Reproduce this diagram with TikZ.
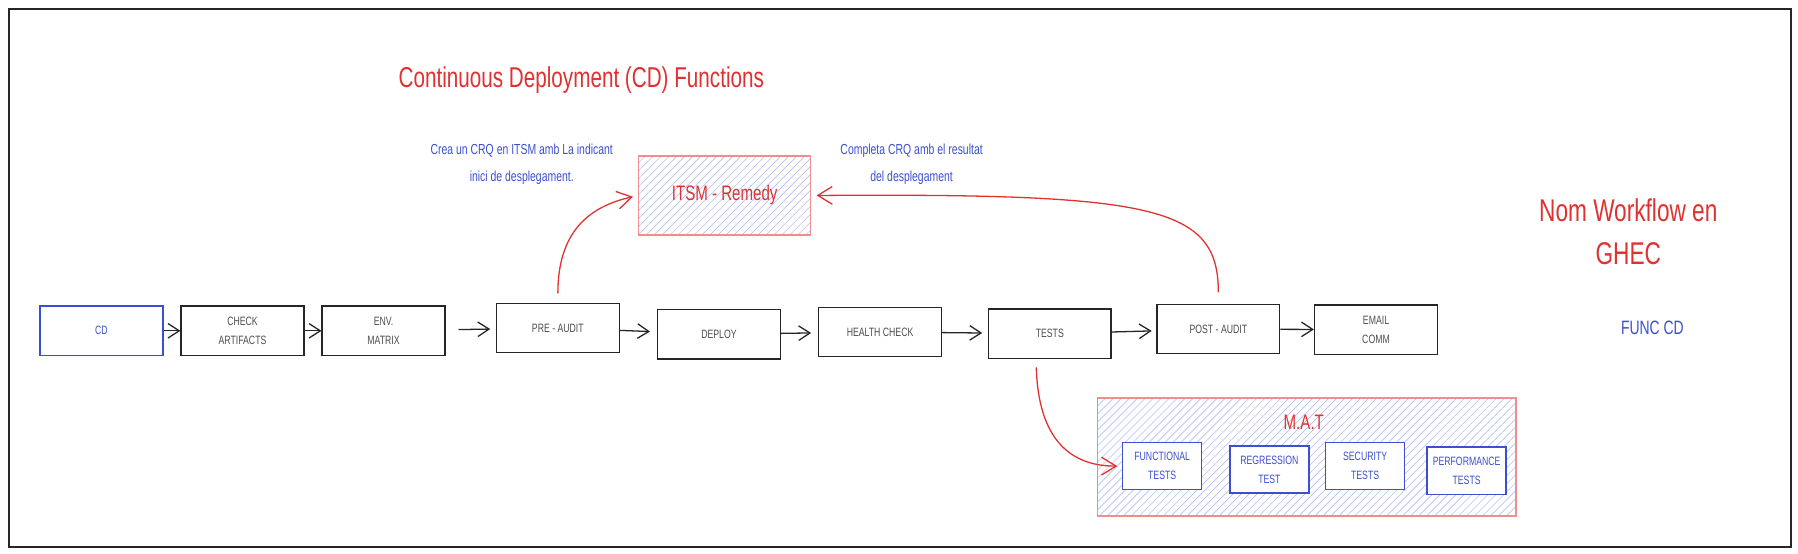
\documentclass[tikz,border=0pt]{standalone}
\usepackage{fontspec}
\setmainfont{Liberation Sans}[FakeStretch=0.72]
\usetikzlibrary{arrows.meta,patterns.meta}
\definecolor{sketchred}{HTML}{E03131}
\definecolor{sketchblue}{HTML}{3B4FD0}
\definecolor{hatchblue}{HTML}{B4BEF5}

\begin{document}
\begin{tikzpicture}[x=0.025cm, y=0.025cm,
        box/.style = {draw=black!85, line width=0.9pt, minimum width=2.675cm, minimum height=1.075cm,
                      inner sep=0pt, align=center, text=black!70, font=\fontsize{7.5}{12}\selectfont},
        bluebox/.style = {box, draw=sketchblue, text=sketchblue},
        testbox/.style = {bluebox, fill=white, minimum width=1.725cm, minimum height=1.025cm},
        hatched/.style = {draw=sketchred!55, line width=0.8pt, inner sep=0pt,
                          pattern={Lines[angle=45,distance=3.5pt,line width=0.4pt]}, pattern color=hatchblue},
        note/.style = {text=sketchblue, align=center, font=\fontsize{9}{17}\selectfont},
        flow/.style = {-{Straight Barb[length=7pt,width=9pt]}, line width=0.8pt, black!85},
        call/.style = {-{Straight Barb[length=9pt,width=11pt]}, line width=0.8pt, sketchred}]
    \useasboundingbox (0,0) rectangle (1568,483);
    \draw[line width=1pt, black!85] (8,6) rectangle (1562,475);

    % titles and notes
    \node[text=sketchred, font=\fontsize{17.8}{20}\selectfont] (title) at (507,413) {Continuous Deployment (CD) Functions};
    \node[note] (crea) at (455,340) {Crea un CRQ en ITSM amb La indicant\\inici de desplegament.};
    \node[note] (completa) at (795,340) {Completa CRQ amb el resultat\\del desplegament};
    \node[text=sketchred, align=center, font=\fontsize{19.5}{27}\selectfont] (nom) at (1420,281) {Nom Workflow en\\GHEC};
    \node[text=sketchblue, font=\fontsize{12}{14}\selectfont] (func) at (1441,197) {FUNC CD};

    % ITSM
    \node[hatched, minimum width=3.75cm, minimum height=1.725cm, text=sketchred,
          font=\fontsize{13}{15}\selectfont] (itsm) at (632,312.5) {ITSM - Remedy};

    % pipeline
    \node[bluebox] (a) at (88.5,194.5) {CD};
    \node[box] (b) at (211.5,194.5) {CHECK\\ARTIFACTS};
    \node[box] (c) at (334.5,194.5) {ENV.\\MATRIX};
    \node[box] (d) at (486.5,197) {PRE - AUDIT};
    \node[box] (e) at (627,191.5) {DEPLOY};
    \node[box] (f) at (767.5,193.5) {HEALTH CHECK};
    \node[box] (g) at (915.5,192) {TESTS};
    \node[box] (h) at (1062.5,196) {POST - AUDIT};
    \node[box] (i) at (1200,195.5) {EMAIL\\COMM};

    % M.A.T
    \node[hatched, minimum width=9.125cm, minimum height=2.575cm] (mat) at (1139.5,84.5) {};
    \node[text=sketchred, font=\fontsize{13}{15}\selectfont] (matlabel) at (1137,115) {M.A.T};
    \node[testbox] (t1) at (1013.5,76.5) {FUNCTIONAL\\TESTS};
    \node[testbox] (t2) at (1107,73.5) {REGRESSION\\TEST};
    \node[testbox] (t3) at (1190.5,76.5) {SECURITY\\TESTS};
    \node[testbox] (t4) at (1279,72.5) {PERFORMANCE\\TESTS};

    \draw[flow] (a) -- (b);
    \draw[flow] (b) -- (c);
    \draw[flow, shorten <=0.28cm, shorten >=0.12cm] (c) -- (d);
    \draw[flow, shorten >=0.15cm] (d) -- (e);
    \draw[flow, shorten >=0.15cm] (e) -- (f);
    \draw[flow, shorten >=0.12cm] (f) -- (g);
    \draw[flow, shorten >=0.1cm] (g) -- (h);
    \draw[flow] (h) -- (i);

    \draw[call, shorten <=0.2cm, shorten >=0.12cm] (d.north) .. controls +(0,60) and +(-45,-10) .. (itsm.west);
    \draw[call, shorten <=0.25cm, shorten >=0.12cm] (h.north) .. controls +(0,85) and +(300,2) .. (itsm.east);
    \draw[call, shorten <=0.18cm, shorten >=0.1cm] (g.south) ++(-12,0) .. controls +(2,-70) and +(-45,0) .. (t1.west);
\end{tikzpicture}
\end{document}
